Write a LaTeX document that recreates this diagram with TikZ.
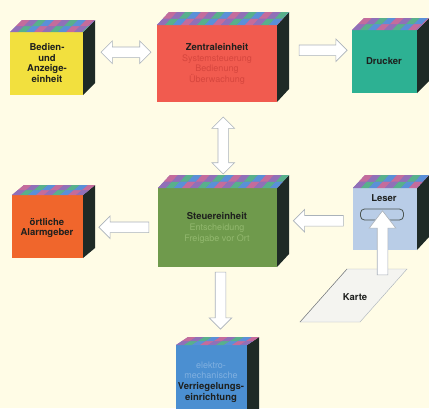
\documentclass[tikz,border=0pt]{standalone}
\usepackage{fontspec}
\setsansfont{TeX Gyre Heros}
\usetikzlibrary{shapes.arrows, calc, positioning}

\definecolor{paper}{RGB}{255,252,230}
\definecolor{ink}{RGB}{30,32,30}
\definecolor{cubeside}{RGB}{30,42,38}
\definecolor{arrowline}{RGB}{170,178,186}
\definecolor{chk0}{RGB}{144,112,184}
\definecolor{chk1}{RGB}{88,176,140}
\definecolor{chk2}{RGB}{90,144,216}
\definecolor{chk3}{RGB}{196,108,156}
\definecolor{bedienfill}{RGB}{242,224,62}
\definecolor{zentralfill}{RGB}{241,91,79}
\definecolor{zentraltext}{RGB}{214,70,62}
\definecolor{druckerfill}{RGB}{45,177,147}
\definecolor{alarmfill}{RGB}{240,102,44}
\definecolor{steuerfill}{RGB}{111,154,76}
\definecolor{steuertext}{RGB}{146,184,110}
\definecolor{leserfill}{RGB}{185,205,231}
\definecolor{verrfill}{RGB}{75,143,209}
\definecolor{verrtext}{RGB}{128,176,224}
\definecolor{cardfill}{RGB}{244,244,240}

% cube: name, x1, y1, x2, y2 (front face), fill, depth of top face
\newcommand{\cubebox}[7]{%
  \fill[#6] (#2,#3) rectangle (#4,#5);
  \fill[cubeside] (#4,#3) -- ++(12,-#7) -- ({#4+12},{#5-#7}) -- (#4,#5) -- cycle;
  \begin{scope}
    \clip (#2,#3) -- ++(12,-#7) -- ({#4+12},{#3-#7}) -- (#4,#3) -- cycle;
    \fill[chk0] (#2,#3) rectangle ({#4+12},{#3-#7});
    \foreach \i in {0,...,17} {
      \foreach \j in {0,1} {
        \pgfmathtruncatemacro{\ck}{mod(\i+3*\j,4)}
        \fill[chk\ck] ({#2+8*\i+6*\j},{#3-#7*\j/2}) -- ++(8,0) -- ++(6,{-#7/2}) -- ++(-8,0) -- cycle;
      }
    }
  \end{scope}
  \node[inner sep=0, minimum width={(#4-#2+12)*1pt}, minimum height={(#5-#3+#7)*1pt}] (#1) at ({(#2+#4+12)/2},{(#3+#5-#7)/2}) {};
}
% faint second lines of a label
\newcommand{\faintline}[2]{\mdseries\fontsize{9}{10.8}\selectfont\color{#1}#2}

\tikzset{
  boxlabel/.style={font=\sffamily\bfseries\fontsize{9.5}{10.8}\selectfont, text=ink, align=center, inner sep=0},
  blockarrow/.style={single arrow, draw=arrowline, fill=white, line width=0.6pt, inner sep=0, inner ysep=5pt, single arrow head extend=6pt, single arrow tip angle=90},
  twoarrow/.style={double arrow, draw=arrowline, fill=white, line width=0.6pt, inner sep=0, inner ysep=5pt, double arrow head extend=6pt, double arrow tip angle=90},
  slotbox/.style={draw=cubeside!80, fill=leserfill, line width=0.8pt, rounded corners=4pt, minimum width=43pt, minimum height=11pt, inner sep=0},
}

\begin{document}
\begin{tikzpicture}[x=1pt,y=-1pt]
\fill[paper] (0,0) rectangle (429,408);
\useasboundingbox (0,0) rectangle (429,408);

\cubebox{bedien}{10}{32}{83}{95}{bedienfill}{12}
\cubebox{zentral}{157}{25}{277}{102}{zentralfill}{13}
\cubebox{drucker}{352}{30}{417}{93}{druckerfill}{12}
\cubebox{alarm}{12}{195}{83}{258}{alarmfill}{10}
\cubebox{steuer}{158}{188}{277}{267}{steuerfill}{13}
\cubebox{leser}{353}{188}{417}{250}{leserfill}{13}
\cubebox{verr}{176}{345}{247}{420}{verrfill}{8}

\node[boxlabel] (bedientext) at (47,63) {Bedien-\\und\\Anzeige-\\einheit};
\node[boxlabel] (zentraltext) at (217,64) {Zentraleinheit\\\faintline{zentraltext}{Systemsteuerung}\\\faintline{zentraltext}{Bedienung}\\\faintline{zentraltext}{Überwachung}};
\node[boxlabel] (druckertext) at (384,61) {Drucker};
\node[boxlabel] (alarmtext) at (47,228) {örtliche\\Alarmgeber};
\node[boxlabel] (steuertext) at (217,228) {Steuereinheit\\\faintline{steuertext}{Entscheidung}\\\faintline{steuertext}{Freigabe vor Ort}};
\node[boxlabel] (lesertext) at (384,198) {Leser};
\node[boxlabel] (verrtext) at (211,382) {\faintline{verrtext}{elektro-}\\\faintline{verrtext}{mechanische}\\Verriegelungs-\\einrichtung};

% Karte
\draw[fill=cardfill, draw=arrowline] (300,322) -- (347,269) -- (407,269) -- (360,322) -- cycle;
\draw[draw=ink!60] (300,322) -- (347,269);
\node[boxlabel] (karte) at (355,297) {Karte};
\node[slotbox] (slot) at (382,214.5) {};
\coordinate (cardslot) at (383,278);

% connectors
\node[twoarrow, minimum height=50pt, yshift=5pt] (a1) at ($(bedien.east)!0.5!(zentral.west)$) {};
\node[blockarrow, minimum height=48pt, yshift=6pt] (a2) at ($(zentral.east)!0.5!(drucker.west)$) {};
\node[twoarrow, rotate=90, minimum height=57pt, xshift=-7pt] (a3) at ($(zentral.south)!0.5!(steuer.north)$) {};
\node[blockarrow, rotate=180, minimum height=50pt, yshift=6pt] (a4) at ($(steuer.west)!0.5!(alarm.east)$) {};
\node[blockarrow, rotate=180, minimum height=50pt, yshift=4pt] (a5) at ($(leser.west)!0.5!(steuer.east)$) {};
\node[blockarrow, rotate=-90, minimum height=57pt, xshift=-4pt] (a6) at ($(steuer.south)!0.5!(verr.north)$) {};
\node[blockarrow, rotate=90, minimum height=64pt, single arrow head extend=8pt, single arrow tip angle=75] (a7) at ($(cardslot)!0.5!(slot.center)$) {};
\end{tikzpicture}
\end{document}
